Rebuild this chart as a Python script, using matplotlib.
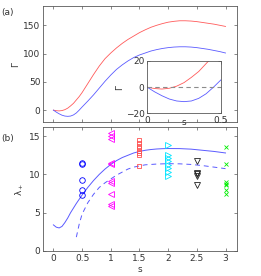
import matplotlib
matplotlib.use('Agg')
import matplotlib.pyplot as plt

# panel (a): Gamma(s)
s_gamma = [0, 0.05, 0.1, 0.15, 0.2, 0.25, 0.3, 0.35, 0.4, 0.45, 0.5,
           0.6, 0.7, 0.8, 0.9, 1.0, 1.1, 1.2, 1.3, 1.4, 1.5, 1.6, 1.7, 1.8, 1.9,
           2.0, 2.1, 2.2, 2.3, 2.4, 2.5, 2.6, 2.7, 2.8, 2.9, 3.0]
gamma_red = [0, -1, -1.4, -0.8, 0.8, 3.5, 7.5, 12, 18, 24, 31,
             47, 63, 78, 91, 101, 110, 118, 125, 131, 137, 142, 146.5, 150, 153,
             155.5, 157, 158, 158, 157.5, 156.5, 155, 153.5, 152, 150, 148]
gamma_blue = [0, -3.5, -6.5, -9, -10.5, -11, -10.5, -8.5, -5, 0, 5.5,
              16, 27, 39, 51, 62, 72, 80, 87, 93, 97.5, 101, 104.5, 107, 109,
              110.5, 111.5, 112, 112, 111.5, 110.5, 109, 107.5, 105.5, 103.5, 101]

# panel (b): lambda_+ curves
s_solid = [0, 0.05, 0.1, 0.15, 0.2, 0.25, 0.3, 0.4, 0.5, 0.6, 0.7, 0.8, 0.9,
           1.0, 1.1, 1.2, 1.3, 1.4, 1.5, 1.6, 1.7, 1.8, 1.9, 2.0, 2.2, 2.4,
           2.6, 2.8, 3.0]
lam_solid = [3.4, 3.1, 3.0, 3.2, 3.7, 4.3, 5.0, 6.2, 7.3, 8.3, 9.2, 10.0, 10.7,
             11.3, 11.8, 12.2, 12.5, 12.8, 13.0, 13.15, 13.25, 13.32, 13.36, 13.38,
             13.37, 13.3, 13.15, 13.0, 12.8]
s_dash = [0.4, 0.45, 0.5, 0.6, 0.7, 0.8, 0.9, 1.0, 1.1, 1.2, 1.3, 1.4, 1.5,
          1.6, 1.8, 2.0, 2.2, 2.4, 2.6, 2.8, 3.0]
lam_dash = [1.8, 3.5, 4.8, 6.3, 7.4, 8.3, 8.9, 9.4, 9.9, 10.3, 10.7, 10.95, 11.1,
            11.25, 11.35, 11.4, 11.38, 11.3, 11.15, 10.95, 10.75]

# panel (b): measured points
pts_05 = [11.4, 11.5, 9.25, 7.9, 7.3]
pts_10 = [15.4, 15.0, 14.6, 11.3, 11.5, 8.9, 9.1, 7.5, 5.9, 6.1]
pts_15 = [14.5, 14.1, 13.75, 13.4, 13.05, 12.75, 12.5, 11.15]
pts_20 = [13.9, 12.55, 12.15, 11.7, 11.25, 10.8, 10.35, 9.85]
pts_25 = [11.7, 10.15, 10.0, 9.8, 8.55]
pts_30 = [13.55, 11.3, 8.95, 8.75, 8.55, 7.9, 7.45]

xticks = [0, 0.5, 1, 1.5, 2, 2.5, 3]
xtick_labels = ['0', '0.5', '1', '1.5', '2', '2.5', '3']

plt.rcParams['font.family'] = ['DejaVu Sans']
plt.rcParams['font.size'] = 6.5
frame = '0.35'
txt = '0.2'


def style(ax):
    ax.tick_params(direction='in', length=2, width=0.5, colors=frame,
                   labelcolor=txt, top=True, right=True, pad=2, labelsize=6.5)
    for sp in ax.spines.values():
        sp.set_color(frame)
        sp.set_linewidth(0.6)


fig = plt.figure(figsize=(2.61, 2.76), dpi=100)

ax1 = fig.add_axes([0.165, 0.558, 0.743, 0.42])
ax1.plot(s_gamma, gamma_red, color='#ff5a5a', lw=0.6)
ax1.plot(s_gamma, gamma_blue, color='#5a5aff', lw=0.6)
ax1.set_xlim(-0.18, 3.2)
ax1.set_ylim(-21, 184)
ax1.set_xticks(xticks)
ax1.set_xticklabels([])
ax1.set_yticks([0, 50, 100, 150])
ax1.set_ylabel('Γ', labelpad=2, color=txt)
style(ax1)
fig.text(0.005, 0.945, '(a)', fontsize=6.5, color=txt)

ins = fig.add_axes([0.564, 0.589, 0.282, 0.19])
ins.plot(s_gamma, gamma_red, color='#ff5a5a', lw=0.6)
ins.plot(s_gamma, gamma_blue, color='#5a5aff', lw=0.6)
ins.axhline(0, color='0.55', lw=0.8, ls=(0, (4, 3)))
ins.set_xlim(0, 0.5)
ins.set_ylim(-20, 20)
ins.set_xticks([0, 0.5])
ins.set_xticklabels(['0', '0.5'])
ins.set_yticks([-20, 0, 20])
ins.set_xlabel('s', labelpad=-5, color=txt)
ins.set_ylabel('Γ', labelpad=1, color=txt)
style(ins)

ax2 = fig.add_axes([0.165, 0.091, 0.743, 0.449])
ax2.plot(s_solid, lam_solid, color='#5a5aff', lw=0.7)
ax2.plot(s_dash, lam_dash, color='#5a5aff', lw=0.7, ls=(0, (5, 4)))
mk = dict(ls='none', mfc='none', mew=0.6)
ax2.plot([0.5] * len(pts_05), pts_05, marker='o', ms=4, mec='#0000ff', **mk)
ax2.plot([1.0] * len(pts_10), pts_10, marker='<', ms=4, mec='#ff00ff', **mk)
ax2.plot([1.5] * len(pts_15), pts_15, marker='s', ms=3.5, mec='#ff5050', **mk)
ax2.plot([2.0] * len(pts_20), pts_20, marker='>', ms=4, mec='#00e5ff', **mk)
ax2.plot([2.5] * len(pts_25), pts_25, marker='v', ms=4, mec='#222222', **mk)
ax2.plot([3.0] * len(pts_30), pts_30, marker='x', ms=3.5, mec='#00ee00', **mk)
ax2.set_xlim(-0.18, 3.2)
ax2.set_ylim(0, 16.2)
ax2.set_xticks(xticks)
ax2.set_xticklabels(xtick_labels)
ax2.set_yticks([0, 5, 10, 15])
ax2.set_xlabel('s', labelpad=2, color=txt)
ax2.set_ylabel('λ$_+$', labelpad=2, color=txt)
style(ax2)
fig.text(0.005, 0.49, '(b)', fontsize=6.5, color=txt)

fig.savefig('out.png', dpi=100)
